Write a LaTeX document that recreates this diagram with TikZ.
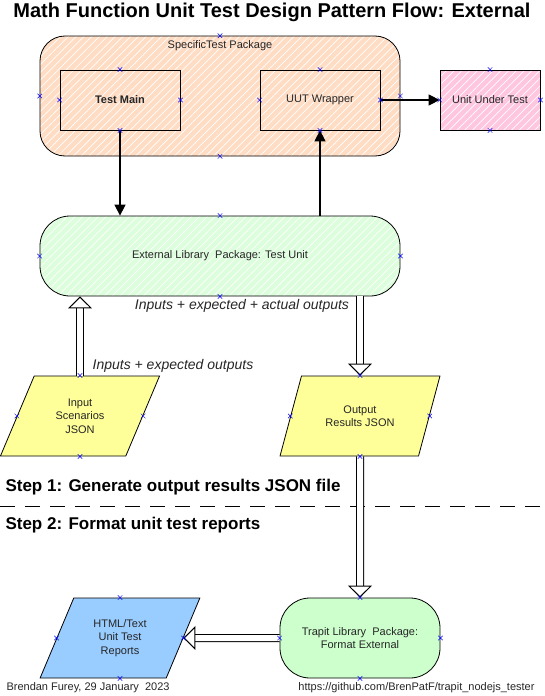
\documentclass[tikz,border=0pt]{standalone}
\usepackage{fontspec}
\setmainfont{Liberation Sans}
\usepackage{tikz}
\usetikzlibrary{shapes}
\usetikzlibrary{arrows.meta}
\usetikzlibrary{patterns.meta}
\usetikzlibrary{positioning}
\definecolor{peach}{RGB}{255,220,196}
\definecolor{libgreen}{RGB}{220,254,220}
\definecolor{trapgreen}{RGB}{204,255,204}
\definecolor{uutpink}{RGB}{255,198,224}
\definecolor{jsonyellow}{RGB}{255,255,153}
\definecolor{repblue}{RGB}{153,204,255}
\tikzstyle{hatched}=[
        pattern={Lines[angle=45,distance=5.5pt,line width=0.7pt]},
        pattern color=white
]
\tikzstyle{box}=[rectangle,draw,line width=0.8pt,minimum width=120pt,minimum height=60pt,
font=\fontsize{11}{13}\selectfont,text=black!85]
\tikzstyle{uutbox}=[box,minimum width=100pt,preaction={fill=uutpink},hatched]
\tikzstyle{pkgbox}=[rectangle,draw,line width=0.8pt,rounded corners=25pt,
minimum width=360pt,minimum height=120pt,preaction={fill=peach},hatched]
\tikzstyle{libbox}=[box,rounded corners=30pt,minimum width=360pt,minimum height=80pt,
preaction={fill=libgreen},hatched]
\tikzstyle{trapbox}=[box,rounded corners=30pt,minimum width=160pt,minimum height=80pt,
fill=trapgreen,align=center]
\tikzstyle{json}=[
        draw,
        line width=0.8pt,
        trapezium,
        trapezium left angle=63.43,
        trapezium right angle=116.57,
        trapezium stretches=true,
        minimum width=160pt,
        minimum height=80pt,
        fill=jsonyellow,
        align=center,
        font=\fontsize{11}{13.3}\selectfont,
        text=black!85
]
\tikzstyle{flowlbl}=[font=\fontsize{14}{16}\selectfont\itshape,text=black!85]
\tikzstyle{steplbl}=[anchor=west,font=\fontsize{17}{20}\selectfont\bfseries]
\tikzstyle{foot}=[font=\fontsize{11}{13}\selectfont,text=black!85]
\tikzstyle{cnx}=[cross out,draw=blue,minimum size=4pt,inner sep=0pt,line width=0.5pt]
\tikzstyle{suite}=[-{Triangle[length=11pt,width=11pt]},line width=1.5pt]
\tikzstyle{hollow}=[-{Triangle[open,length=12pt,width=24pt]},line width=1pt,double distance=6pt]

\begin{document}
\begin{tikzpicture}[x=1pt,y=-1pt]
\useasboundingbox (0,0) rectangle (544,696);
\node[font=\fontsize{20}{24}\selectfont\bfseries] (title) at (272,12) {Math Function Unit Test Design Pattern Flow: External};
\node[pkgbox] (pkg) at (220,96) {};
\node[foot] (pkgname) at (220,46) {SpecificTest Package};
\node[box,font=\fontsize{11}{13}\selectfont\bfseries] (main) at (120,100) {Test Main};
\node[box] (wrap) at (320,100) {UUT Wrapper};
\node[uutbox] (uut) at (490,100) {Unit Under Test};
\node[libbox] (lib) at (220,256) {External Library\ \ Package: Test Unit};
\node[flowlbl] (lab1) at (242,306) {Inputs + expected + actual outputs};
\node[flowlbl] (lab2) at (173,366) {Inputs + expected outputs};
\node[json] (inp) at (80,416) {Input\\Scenarios\\JSON};
\node[json] (outp) at (360,416) {Output\\Results JSON};
\node[steplbl] (step1) at (2,487) {Step 1: Generate output results JSON file};
\coordinate (cutl) at (0,506);
\coordinate (cutr) at (544,506);
\node[steplbl] (step2) at (2,525) {Step 2: Format unit test reports};
\node[trapbox] (trap) at (360,638) {Trapit Library\ \ Package:\\Format External};
\node[json,fill=repblue] (rep) at (120,638) {HTML/Text\\Unit Test\\Reports};
\node[foot,anchor=west] (author) at (3,688) {Brendan Furey, 29 January\ \ 2023};
\node[foot,anchor=east] (url) at (538,688) {https://github.com/BrenPatF/trapit\_nodejs\_tester};
%Drawing Edges
\draw[line width=0.8pt,dash pattern=on 15pt off 10pt] (cutl) -- (cutr);
\draw[suite] (main.south) -- (main.south |- lib.north);
\draw[suite] (lib.north -| wrap.south) -- (wrap.south);
\draw[suite] (wrap) -- (uut);
\draw[hollow] (inp.north) -- (inp.north |- lib.south);
\draw[hollow] (lib.south -| outp.north) -- (outp.north);
\draw[hollow] (outp.south) -- (trap.north);
\draw[hollow] (trap.west) -- (rep.east);
%Connection points
\foreach \n in {pkg,main,wrap,uut,lib,inp,outp,trap,rep}
  \foreach \a in {north,south,east,west}
    \node[cnx] at (\n.\a) {};
\end{tikzpicture}
\end{document}
